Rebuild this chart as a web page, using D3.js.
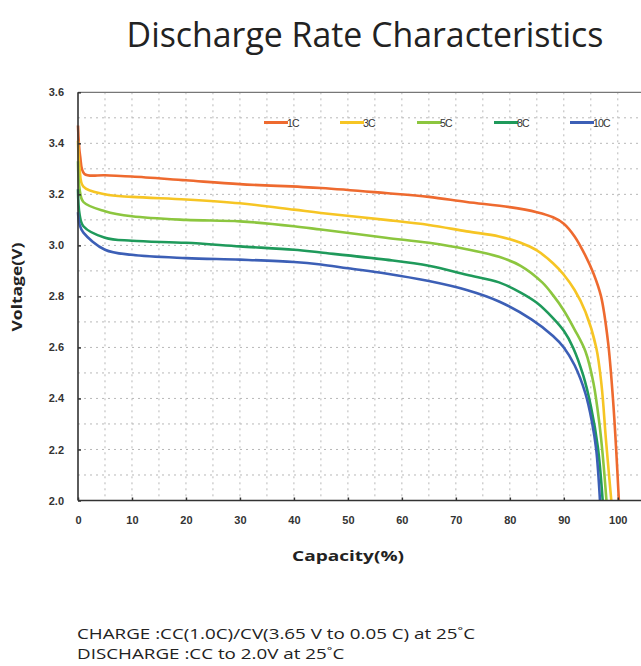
<!DOCTYPE html>
<html>
<head>
<meta charset="utf-8">
<script src="https://cdn.jsdelivr.net/npm/d3@7"></script>
<style>
  body { margin: 0; background: #fff; }
  svg { display: block; }
</style>
</head>
<body>
<div id="chart"></div>
<script>
// series data: capacity (%) and voltage (V)
const seriesNames = ["1C", "3C", "5C", "8C", "10C"];
const seriesColors = ["#ee6a2f", "#f6c524", "#8cc63f", "#1f9a5b", "#3c5fb6"];

const cap1C = [0, 0.4, 1.2, 5, 10, 20, 30, 45, 57, 65, 72, 80, 85, 88, 90, 92, 94, 95.5, 96.9, 98.2, 99.1, 99.7, 100.2];
const volt1C = [3.47, 3.35, 3.28, 3.275, 3.27, 3.255, 3.24, 3.225, 3.205, 3.19, 3.17, 3.15, 3.13, 3.11, 3.085, 3.035, 2.96, 2.89, 2.80, 2.62, 2.40, 2.20, 2.0];

const cap3C = [0, 0.3, 1, 5, 10, 20, 30, 40, 45, 57, 65, 72, 78, 82, 85, 88, 90, 92, 94, 96, 97, 97.8, 98.8];
const volt3C = [3.41, 3.30, 3.23, 3.20, 3.19, 3.18, 3.165, 3.14, 3.127, 3.10, 3.08, 3.055, 3.035, 3.01, 2.98, 2.93, 2.885, 2.825, 2.74, 2.60, 2.45, 2.24, 2.0];

const cap5C = [0, 0.3, 1, 5, 10, 20, 30, 40, 45, 57, 65, 72, 78, 82, 86, 88, 90, 92, 94, 95.5, 96.6, 97.2, 97.9];
const volt5C = [3.33, 3.22, 3.17, 3.134, 3.114, 3.10, 3.094, 3.075, 3.062, 3.03, 3.01, 2.985, 2.955, 2.92, 2.855, 2.805, 2.745, 2.67, 2.585, 2.46, 2.30, 2.18, 2.0];

const cap8C = [0, 0.3, 1, 5, 10, 20, 30, 40, 45, 57, 65, 72, 78, 82, 85, 88, 90, 91.7, 93.6, 95, 96.3, 97.2];
const volt8C = [3.22, 3.12, 3.075, 3.03, 3.018, 3.01, 2.996, 2.983, 2.972, 2.944, 2.92, 2.885, 2.855, 2.815, 2.775, 2.715, 2.665, 2.60, 2.49, 2.37, 2.21, 2.0];

const cap10C = [0, 0.3, 1, 5, 10, 20, 30, 40, 45, 50, 57, 65, 72, 78, 84, 88, 90, 92, 94, 95.2, 96, 96.7];
const volt10C = [3.13, 3.08, 3.05, 2.983, 2.963, 2.95, 2.944, 2.935, 2.925, 2.91, 2.89, 2.86, 2.825, 2.78, 2.71, 2.645, 2.60, 2.53, 2.42, 2.31, 2.20, 2.0];

const capValues = [cap1C, cap3C, cap5C, cap8C, cap10C];
const voltValues = [volt1C, volt3C, volt5C, volt8C, volt10C];

const xTicks = [0, 10, 20, 30, 40, 50, 60, 70, 80, 90, 100];
const yTicks = [2.0, 2.2, 2.4, 2.6, 2.8, 3.0, 3.2, 3.4, 3.6];

const width = 641, height = 666;
const plotLeft = 78, plotRight = 641, plotTop = 92.3, plotBottom = 500.5;

const svg = d3.select("#chart").append("svg")
    .attr("width", width)
    .attr("height", height);

const x = d3.scaleLinear().domain([0, 104.3]).range([plotLeft, plotRight]);
const y = d3.scaleLinear().domain([2.0, 3.6]).range([plotBottom, plotTop]);

// scale a text's font size so it spans a given width
function fitWidth(sel, base, target) {
    const w = sel.node().getComputedTextLength();
    sel.style("font-size", (base * target / w) + "px");
}

// Title
const title = svg.append("text")
    .attr("x", 365)
    .attr("y", 46.5)
    .attr("text-anchor", "middle")
    .style("font-family", "'Open Sans', sans-serif")
    .style("font-size", "28px")
    .style("fill", "#222")
    .text("Discharge Rate Characteristics");
fitWidth(title, 28, 477);

// dotted grid, every 5 % and every 0.1 V
const grid = svg.append("g").attr("class", "grid");
grid.selectAll("line.v")
    .data(d3.range(5, 104, 5))
    .enter().append("line")
    .attr("class", "v")
    .attr("x1", d => x(d)).attr("x2", d => x(d))
    .attr("y1", plotTop).attr("y2", plotBottom)
    .attr("stroke", "#b8b8b8")
    .attr("stroke-width", 1)
    .attr("stroke-dasharray", "2,4");
grid.selectAll("line.h")
    .data(d3.range(2.1, 3.55, 0.1))
    .enter().append("line")
    .attr("class", "h")
    .attr("x1", plotLeft).attr("x2", plotRight)
    .attr("y1", d => y(d)).attr("y2", d => y(d))
    .attr("stroke", "#b8b8b8")
    .attr("stroke-width", 1)
    .attr("stroke-dasharray", "2,4");

// top border
svg.append("line")
    .attr("x1", plotLeft).attr("x2", plotRight)
    .attr("y1", plotTop).attr("y2", plotTop)
    .attr("stroke", "#777")
    .attr("stroke-width", 1.2);

// curves
const line = d3.line()
    .x(d => x(d[0]))
    .y(d => y(d[1]))
    .curve(d3.curveCatmullRom.alpha(0.5));

seriesNames.forEach((name, i) => {
    const pts = capValues[i].map((c, j) => [c, voltValues[i][j]]);
    svg.append("path")
        .datum(pts)
        .attr("fill", "none")
        .attr("stroke", seriesColors[i])
        .attr("stroke-width", 2.6)
        .attr("stroke-linejoin", "round")
        .attr("d", line);
});

// axes
const yAxis = svg.append("g")
    .attr("transform", `translate(${plotLeft},0)`)
    .call(d3.axisLeft(y).tickValues(yTicks).tickFormat(d3.format(".1f")).tickSize(-3).tickPadding(14));
const xAxis = svg.append("g")
    .attr("transform", `translate(0,${plotBottom})`)
    .call(d3.axisBottom(x).tickValues(xTicks).tickSize(-3).tickPadding(16));

[xAxis, yAxis].forEach(g => {
    g.select(".domain").attr("stroke", "#333").attr("stroke-width", 1.6);
    g.selectAll(".tick line").attr("stroke", "#333").attr("stroke-width", 1.5);
    g.selectAll(".tick text")
        .style("font-family", "'Liberation Sans', Arial, sans-serif")
        .style("font-weight", "bold")
        .style("font-size", "11px")
        .style("fill", "#333");
});
xAxis.select(".domain").attr("d", `M${plotLeft},0H${plotRight}`);
yAxis.select(".domain").attr("d", `M0,${plotTop}V${plotBottom}`);

// axis titles
svg.append("text")
    .attr("transform", "translate(22,287) rotate(-90)")
    .attr("text-anchor", "middle")
    .attr("textLength", 89)
    .attr("lengthAdjust", "spacingAndGlyphs")
    .style("font-family", "'Open Sans', sans-serif")
    .style("font-weight", "bold")
    .style("font-size", "14px")
    .style("fill", "#222")
    .text("Voltage(V)");
svg.append("text")
    .attr("x", 348)
    .attr("y", 561)
    .attr("text-anchor", "middle")
    .attr("textLength", 112)
    .attr("lengthAdjust", "spacingAndGlyphs")
    .style("font-family", "'Open Sans', sans-serif")
    .style("font-weight", "bold")
    .style("font-size", "15px")
    .style("fill", "#222")
    .text("Capacity(%)");

// legend
const legendX = [264, 340, 417, 494, 570];
const legend = svg.append("g");
seriesNames.forEach((name, i) => {
    legend.append("line")
        .attr("x1", legendX[i]).attr("x2", legendX[i] + 24)
        .attr("y1", 122.5).attr("y2", 122.5)
        .attr("stroke", seriesColors[i])
        .attr("stroke-width", 3);
    legend.append("text")
        .attr("x", legendX[i] + 23)
        .attr("y", 126.5)
        .style("font-family", "'Liberation Sans', Arial, sans-serif")
        .style("font-size", "10.5px")
        .style("letter-spacing", "-0.8px")
        .style("fill", "#333")
        .text(name);
});

// notes under the chart, stretched the same way as in the picture
const notes = ["CHARGE :CC(1.0C)/CV(3.65 V to 0.05 C) at 25˚C", "DISCHARGE :CC to 2.0V at 25˚C"];
const noteText = svg.selectAll("text.note")
    .data(notes)
    .enter().append("text")
    .attr("class", "note")
    .attr("x", 77)
    .attr("y", (d, i) => 639 + i * 20)
    .style("font-family", "'Open Sans', sans-serif")
    .style("font-size", "15px")
    .style("fill", "#222")
    .text(d => d);
const stretch = 398 / noteText.nodes()[0].getComputedTextLength();
noteText.each(function() {
    const w = this.getComputedTextLength();
    d3.select(this)
        .attr("textLength", w * stretch)
        .attr("lengthAdjust", "spacingAndGlyphs");
});
</script>
</body>
</html>
